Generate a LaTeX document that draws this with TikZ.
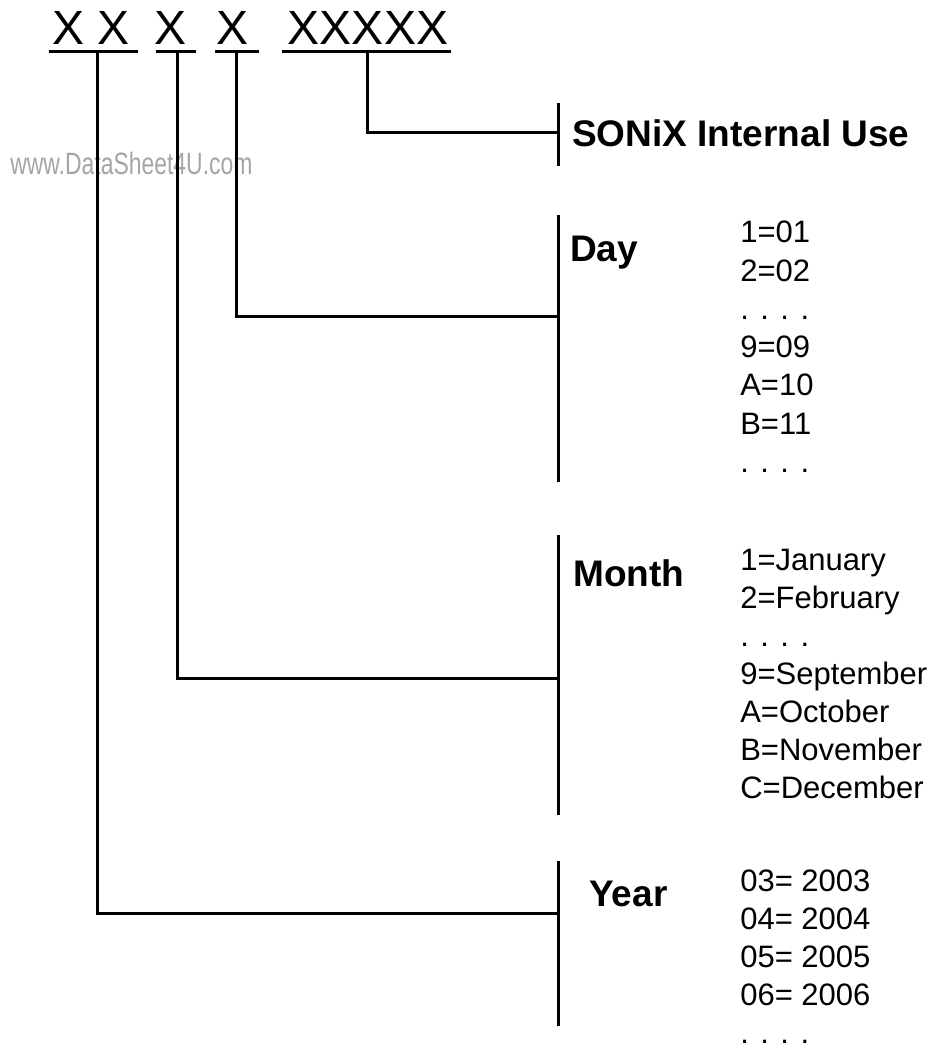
\documentclass[tikz,border=0pt]{standalone}
\usepackage{fontspec}
\setmainfont{Liberation Sans}
\definecolor{wmgray}{RGB}{165,165,165}
\begin{document}
\begin{tikzpicture}[x=0.75pt,y=-0.75pt,
  line/.style={line width=2.25pt},
  bigx/.style={inner sep=0pt,anchor=base,font=\fontsize{36pt}{40pt}\selectfont},
  label/.style={inner sep=0pt,anchor=base west,font=\fontsize{27.75pt}{32pt}\selectfont\bfseries},
  listtext/.style={inner sep=0pt,anchor=base west,font=\fontsize{23.25pt}{28pt}\selectfont},
  wmark/.style={inner sep=0pt,anchor=base west,text=wmgray,font=\fontsize{18.5pt}{22pt}\selectfont}]
\useasboundingbox (0,0) rectangle (933,1048);
% header characters
\node[bigx] (x1) at (69,45) {X};
\node[bigx] (x2) at (113.5,45) {X};
\node[bigx] (x3) at (171,45) {X};
\node[bigx] (x4) at (233,45) {X};
\node[bigx] (x5) at (368,45) {XXXXX};
% underlines
\draw[line] (49,52) -- (138,52);
\draw[line] (156,52) -- (196,52);
\draw[line] (215,52) -- (259,52);
\draw[line] (282,52) -- (451,52);
\coordinate (uy) at (97,52);
\coordinate (um) at (177,52);
\coordinate (ud) at (236,52);
\coordinate (us) at (367,52);
% watermark
\node[wmark] (wm) at (10,175) {\scalebox{0.93}[1.25]{www.DataSheet4U.com}};
% bars
\coordinate (bsT) at (558,103); \coordinate (bsB) at (558,166); \coordinate (bs) at (558,133);
\coordinate (bdT) at (558,215); \coordinate (bdB) at (558,482); \coordinate (bd) at (558,316);
\coordinate (bmT) at (558,535); \coordinate (bmB) at (558,815); \coordinate (bm) at (558,678);
\coordinate (byT) at (558,861); \coordinate (byB) at (558,1026); \coordinate (by) at (558,913);
\draw[line] (bsT) -- (bsB);
\draw[line] (bdT) -- (bdB);
\draw[line] (bmT) -- (bmB);
\draw[line] (byT) -- (byB);
% connectors
\draw[line] (us) |- (bs);
\draw[line] (ud) |- (bd);
\draw[line] (um) |- (bm);
\draw[line] (uy) |- (by);
% labels
\node[label] (sonix) at (572,147) {SONiX Internal Use};
\node[label] (day) at (570,262) {Day};
\node[label] (month) at (573,586) {Month};
\node[label] (year) at (589,906) {Year};
% lists
\foreach \t [count=\i] in {1=01, 2=02, {. . . .}, 9=09, A=10, B=11, {. . . .}}
  \node[listtext] (dl\i) at (740,{243+38.2*(\i-1)}) {\t};
\foreach \t [count=\i] in {1=January, 2=February, {. . . .}, 9=September, A=October, B=November, C=December}
  \node[listtext] (ml\i) at (740,{570+38*(\i-1)}) {\t};
\foreach \t [count=\i] in {03= 2003, 04= 2004, 05= 2005, 06= 2006, {. . . .}}
  \node[listtext] (yl\i) at (740,{891+38*(\i-1)}) {\t};
\end{tikzpicture}
\end{document}
